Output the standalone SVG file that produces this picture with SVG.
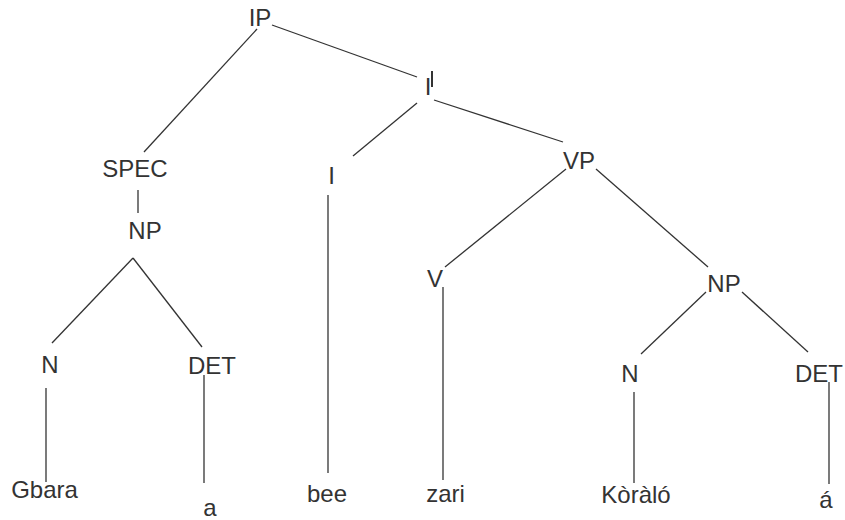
<svg xmlns="http://www.w3.org/2000/svg" width="845" height="520" viewBox="0 0 845 520">
<style>
text{font-family:"Liberation Sans",Arial,sans-serif;font-size:24px;fill:#333;text-anchor:middle}
line{stroke:#333;stroke-width:1.3}
</style>
<rect width="845" height="520" fill="#fff"/>
<g id="connectors">
<line x1="257" y1="29" x2="144" y2="152"/>
<line x1="272" y1="25" x2="417" y2="77"/>
<line x1="417" y1="103" x2="353" y2="156"/>
<line x1="434" y1="100" x2="563" y2="142"/>
<line x1="138" y1="190" x2="138" y2="213"/>
<line x1="133" y1="258" x2="52" y2="343"/>
<line x1="133" y1="258" x2="202" y2="347"/>
<line x1="46" y1="388" x2="46" y2="482"/>
<line x1="204" y1="375" x2="204" y2="483"/>
<line x1="328" y1="195" x2="328" y2="473"/>
<line x1="566" y1="169" x2="445" y2="267"/>
<line x1="596" y1="169" x2="708" y2="267"/>
<line x1="443" y1="287" x2="443" y2="480"/>
<line x1="706" y1="292" x2="641" y2="354"/>
<line x1="742" y1="292" x2="808" y2="352"/>
<line x1="634" y1="392" x2="634" y2="483"/>
<line x1="829" y1="382" x2="829" y2="484"/>
</g>
<g id="IP"><text x="260" y="26">IP</text></g>
<g id="Ibar"><text x="428" y="95">I</text><line x1="432" y1="71" x2="432" y2="87" style="stroke-width:2"/></g>
<g id="SPEC"><text x="135" y="177">SPEC</text></g>
<g id="NP1"><text x="145" y="239">NP</text></g>
<g id="N1"><text x="50" y="373">N</text></g>
<g id="DET1"><text x="212" y="374">DET</text></g>
<g id="Gbara"><text x="44.5" y="498">Gbara</text></g>
<g id="a"><text x="210" y="516">a</text></g>
<g id="I"><text x="331.5" y="184">I</text></g>
<g id="bee"><text x="327" y="502">bee</text></g>
<g id="VP"><text x="579" y="169">VP</text></g>
<g id="V"><text x="435" y="287">V</text></g>
<g id="zari"><text x="445.5" y="502">zari</text></g>
<g id="NP2"><text x="724" y="292">NP</text></g>
<g id="N2"><text x="630" y="382">N</text></g>
<g id="DET2"><text x="819" y="382">DET</text></g>
<g id="Koralo"><text x="636" y="503">Kòràló</text></g>
<g id="a2"><text x="826" y="508">á</text></g>
</svg>
